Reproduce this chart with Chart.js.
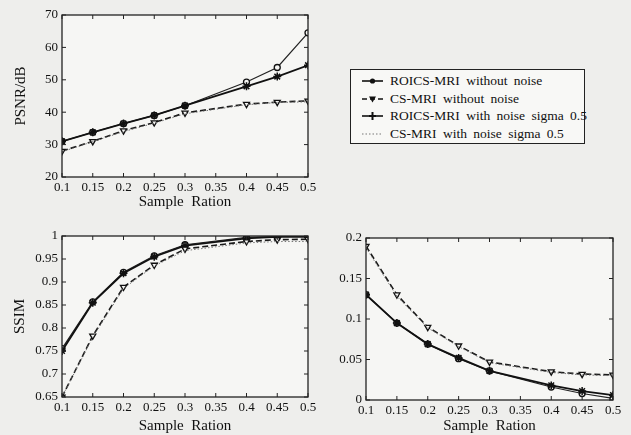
<!DOCTYPE html>
<html>
<head>
<meta charset="utf-8">
<script src="https://cdn.jsdelivr.net/npm/chart.js@4"></script>
<style>
  body { margin: 0; background: #eeeeec; }
  #wrap { position: relative; width: 631px; height: 435px; overflow: hidden; }
  .c { position: absolute; }
  #legend {
    position: absolute; left: 350px; top: 69px; width: 235px; height: 75px;
    border: 1.3px solid #222; background: #f8f8f6;
    font-family: "Liberation Serif", serif; font-size: 13.5px; color: #111;
    padding: 2px 0 0 0; box-sizing: border-box; white-space: nowrap; word-spacing: 3px;
  }
  #legend div { height: 17.8px; display: flex; align-items: center; }
  #legend svg { margin: 0 7px 0 11px; flex: none; }
</style>
</head>
<body>
<div id="wrap">
  <div class="c" style="left:0;top:0;width:320px;height:220px"><canvas id="psnr"></canvas></div>
  <div class="c" style="left:0;top:220px;width:320px;height:215px"><canvas id="ssim"></canvas></div>
  <div class="c" style="left:320px;top:220px;width:311px;height:215px"><canvas id="err"></canvas></div>
  <div id="legend"></div>
</div>
<script>
// sample ratios used on the x axis
var ratios = [0.1, 0.15, 0.2, 0.25, 0.3, 0.4, 0.45, 0.5];

// PSNR (dB)
var psnrRoi = [31, 33.8, 36.5, 39, 42, 49.3, 53.8, 64.5];
var psnrCs = [28, 31, 34.3, 36.8, 39.8, 42.5, 43.1, 43.5];
var psnrRoiNoise = [31, 33.8, 36.5, 39, 42, 48, 51, 54.5];
var psnrCsNoise = [27.8, 30.9, 34, 36.6, 39.5, 42.3, 43, 43.2];

// SSIM
var ssimRoi = [0.755, 0.857, 0.921, 0.957, 0.981, 0.997, 0.999, 0.999];
var ssimCs = [0.65, 0.783, 0.889, 0.937, 0.972, 0.988, 0.992, 0.993];
var ssimRoiNoise = [0.75, 0.855, 0.919, 0.955, 0.979, 0.995, 0.998, 0.998];
var ssimCsNoise = [0.65, 0.78, 0.886, 0.935, 0.968, 0.985, 0.988, 0.988];

// third panel (error)
var errRoi = [0.13, 0.095, 0.069, 0.051, 0.036, 0.016, 0.008, 0.002];
var errCs = [0.19, 0.13, 0.09, 0.067, 0.047, 0.035, 0.032, 0.031];
var errRoiNoise = [0.13, 0.095, 0.069, 0.052, 0.036, 0.018, 0.011, 0.006];
var errCsNoise = [0.188, 0.128, 0.089, 0.066, 0.046, 0.034, 0.031, 0.03];

var labels = ['ROICS-MRI without noise', 'CS-MRI without noise',
              'ROICS-MRI with noise sigma 0.5', 'CS-MRI with noise sigma 0.5'];

var serif = '"Liberation Serif", serif';
var fmt = function (v) { return String(parseFloat(v.toFixed(2))); };

function pts(ys) {
  return ys.map(function (y, i) { return { x: ratios[i], y: y }; });
}

// kader + naar binnen gerichte streepjes
var boxPlugin = {
  id: 'box',
  beforeDraw: function (chart) {
    var a = chart.chartArea, ctx = chart.ctx;
    ctx.save();
    ctx.fillStyle = '#f6f6f4';
    ctx.fillRect(a.left, a.top, a.right - a.left, a.bottom - a.top);
    ctx.restore();
  },
  afterDraw: function (chart) {
    var a = chart.chartArea, ctx = chart.ctx;
    var x = chart.scales.x, y = chart.scales.y;
    ctx.save();
    ctx.strokeStyle = '#222';
    ctx.lineWidth = 1.3;
    ctx.strokeRect(a.left, a.top, a.right - a.left, a.bottom - a.top);
    ctx.lineWidth = 1;
    ctx.beginPath();
    x.ticks.forEach(function (t) {
      var px = x.getPixelForValue(t.value);
      ctx.moveTo(px, a.bottom); ctx.lineTo(px, a.bottom - 4);
      ctx.moveTo(px, a.top); ctx.lineTo(px, a.top + 4);
    });
    y.ticks.forEach(function (t) {
      var py = y.getPixelForValue(t.value);
      ctx.moveTo(a.left, py); ctx.lineTo(a.left + 4, py);
      ctx.moveTo(a.right, py); ctx.lineTo(a.right - 4, py);
    });
    ctx.stroke();
    ctx.restore();
  }
};

function makeChart(id, series, cfg) {
  new Chart(document.getElementById(id), {
    type: 'line',
    data: {
      datasets: [
        { label: labels[3], data: pts(series[3]), borderColor: '#777', borderWidth: 1,
          borderDash: [1.5, 2], pointRadius: 0 },
        { label: labels[1], data: pts(series[1]), borderColor: '#1a1a1a', borderWidth: 1.6,
          borderDash: [6, 3], pointStyle: 'triangle', rotation: 180, pointRadius: 3.5,
          pointBackgroundColor: '#f6f6f4', pointBorderColor: '#111', pointBorderWidth: 1.3 },
        { label: labels[2], data: pts(series[2]), borderColor: '#111', borderWidth: 1.8,
          pointStyle: 'star', pointRadius: 4, pointBorderColor: '#111', pointBorderWidth: 1.5 },
        { label: labels[0], data: pts(series[0]), borderColor: '#222', borderWidth: 1.2,
          pointStyle: 'circle', pointRadius: 3, pointBackgroundColor: '#f6f6f4',
          pointBorderColor: '#111', pointBorderWidth: 1.3 }
      ]
    },
    options: {
      responsive: true,
      maintainAspectRatio: false,
      animation: false,
      layout: { padding: { top: cfg.top, right: cfg.right, left: cfg.left, bottom: cfg.bottom } },
      plugins: { legend: { display: false }, tooltip: { enabled: false } },
      scales: {
        x: {
          type: 'linear', min: 0.1, max: 0.5,
          grid: { display: false, drawTicks: false }, border: { display: false },
          afterFit: function (s) { s.height = cfg.xh; },
          ticks: { stepSize: 0.05, callback: fmt, color: '#111', padding: 3,
                   font: { family: serif, size: 13 }, maxRotation: 0, autoSkip: false },
          title: { display: true, text: 'Sample  Ration', color: '#111', padding: 0,
                   font: { family: serif, size: 15 } }
        },
        y: {
          min: cfg.min, max: cfg.max,
          grid: { display: false, drawTicks: false }, border: { display: false },
          afterFit: function (s) { s.width = cfg.yw; },
          ticks: { stepSize: cfg.step, callback: fmt, color: '#111', padding: 4,
                   font: { family: serif, size: 13 }, autoSkip: false },
          title: { display: !!cfg.title, text: cfg.title, color: '#111', padding: 0,
                   font: { family: serif, size: 15 } }
        }
      }
    },
    plugins: [boxPlugin]
  });
}

makeChart('psnr', [psnrRoi, psnrCs, psnrRoiNoise, psnrCsNoise],
  { top: 15, right: 12, left: 12, bottom: 9, xh: 34, yw: 50, min: 20, max: 70, step: 10, title: 'PSNR/dB' });
makeChart('ssim', [ssimRoi, ssimCs, ssimRoiNoise, ssimCsNoise],
  { top: 16, right: 12, left: 11, bottom: 0, xh: 38, yw: 51, min: 0.65, max: 1, step: 0.05, title: 'SSIM' });
makeChart('err', [errRoi, errCs, errRoiNoise, errCsNoise],
  { top: 18, right: 18, left: 0, bottom: 0, xh: 35, yw: 46, min: 0, max: 0.2, step: 0.05, title: '' });

// legenda als HTML met kleine lijnvoorbeelden
var samples = [
  '<line x1="0" y1="6" x2="21" y2="6" stroke="#111" stroke-width="1.6"/><circle cx="10.5" cy="6" r="2.6" fill="#111"/>',
  '<line x1="0" y1="6" x2="21" y2="6" stroke="#111" stroke-width="1.6" stroke-dasharray="5 3"/><path d="M7 3.5 L14 3.5 L10.5 9.5 Z" fill="#111"/>',
  '<line x1="0" y1="6" x2="21" y2="6" stroke="#111" stroke-width="1.6"/><path d="M10.5 2 L10.5 10 M7 6 L14 6" stroke="#111" stroke-width="2"/>',
  '<line x1="0" y1="6" x2="21" y2="6" stroke="#777" stroke-width="1" stroke-dasharray="1.5 2"/>'
];
var legendEl = document.getElementById('legend');
labels.forEach(function (l, i) {
  var row = document.createElement('div');
  row.innerHTML = '<svg width="21" height="12">' + samples[i] + '</svg><span>' + l + '</span>';
  legendEl.appendChild(row);
});
</script>
</body>
</html>
